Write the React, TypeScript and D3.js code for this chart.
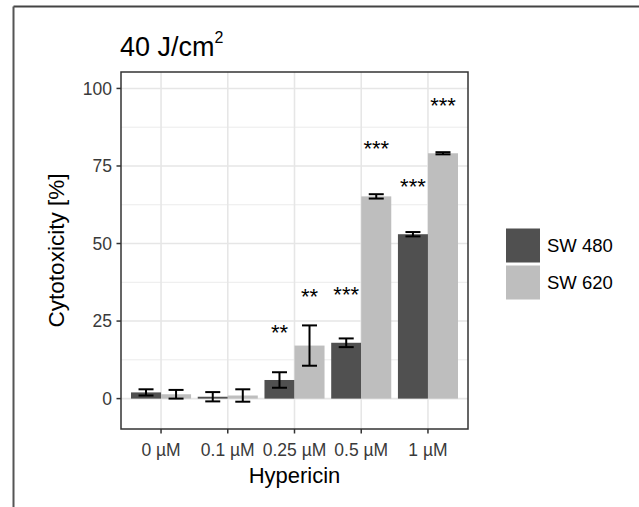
import React from "react";
import * as d3 from "d3";

const categories = ["0 µM", "0.1 µM", "0.25 µM", "0.5 µM", "1 µM"];
const seriesNames = ["SW 480", "SW 620"];
const sw480Mean = [2.0, 0.6, 6.0, 18.0, 53.0];
const sw480Sd = [1.0, 1.5, 2.5, 1.4, 0.7];
const sw620Mean = [1.4, 1.0, 17.1, 65.2, 79.1];
const sw620Sd = [1.4, 2.0, 6.5, 0.7, 0.35];
const sw480Sig = ["", "", "**", "***", "***"];
const sw620Sig = ["", "", "**", "***", "***"];
const sw480SigY = [0, 0, 18.9, 31.1, 66.0];
const sw620SigY = [0, 0, 30.4, 78.3, 92.2];
const yTicks = [0, 25, 50, 75, 100];
const yMinorTicks = [12.5, 37.5, 62.5, 87.5];
const colors = ["#505050", "#bebebe"];

const W = 639;
const H = 507;
const FONT = "'Liberation Sans', Arial, Helvetica, sans-serif";

export default function App() {
  const left = 121, right = 468, top = 72, bottom = 429;
  const y = d3.scaleLinear().domain([-9.8, 105.3]).range([bottom, top]);
  const x = d3
    .scaleBand<string>()
    .domain(categories)
    .range([left, right])
    .paddingInner(0)
    .paddingOuter(0.1);
  const step = x.bandwidth();
  const inner = d3
    .scaleBand<string>()
    .domain(seriesNames)
    .range([-0.45 * step, 0.45 * step])
    .padding(0);
  const bw = inner.bandwidth();
  const capW = 15;

  const series = [
    { name: seriesNames[0], mean: sw480Mean, sd: sw480Sd, sig: sw480Sig, sigY: sw480SigY, color: colors[0] },
    { name: seriesNames[1], mean: sw620Mean, sd: sw620Sd, sig: sw620Sig, sigY: sw620SigY, color: colors[1] },
  ];

  const cx = (c: string) => (x(c) as number) + step / 2;

  return (
    <svg
      width={W}
      height={H}
      style={{ position: "absolute", left: 0, top: 0, background: "#fff" }}
      fontFamily={FONT}
    >
      <rect x={0} y={0} width={W} height={H} fill="#fff" />
      {/* outer frame */}
      <line x1={13.5} y1={6.5} x2={W} y2={6.5} stroke="#444" strokeWidth={2} />
      <line x1={13.5} y1={6.5} x2={13.5} y2={H} stroke="#555" strokeWidth={2} />

      {/* title */}
      <text x={120} y={56} fontSize={27} fill="#000">
        40 J/cm
        <tspan fontSize={16} dy={-13}>2</tspan>
      </text>

      {/* grid */}
      <g clipPath="url(#panelClip)">
        {yMinorTicks.map((t) => (
          <line key={"mi" + t} x1={left} x2={right} y1={y(t)} y2={y(t)} stroke="#ebebeb" strokeWidth={1} />
        ))}
        {yTicks.map((t) => (
          <line key={"ma" + t} x1={left} x2={right} y1={y(t)} y2={y(t)} stroke="#e6e6e6" strokeWidth={1.6} />
        ))}
        {categories.map((c) => (
          <line key={"v" + c} x1={cx(c)} x2={cx(c)} y1={top} y2={bottom} stroke="#e6e6e6" strokeWidth={1.6} />
        ))}
      </g>

      {/* bars */}
      {series.map((s) =>
        categories.map((c, i) => {
          const x0 = cx(c) + (inner(s.name) as number);
          const y0 = y(Math.max(0, s.mean[i]));
          const y1 = y(Math.min(0, s.mean[i]));
          return <rect key={s.name + c} x={x0} y={y0} width={bw} height={y1 - y0} fill={s.color} />;
        })
      )}

      {/* error bars */}
      {series.map((s) =>
        categories.map((c, i) => {
          const xc = cx(c) + (inner(s.name) as number) + bw / 2;
          const hi = y(s.mean[i] + s.sd[i]);
          const lo = y(s.mean[i] - s.sd[i]);
          return (
            <g key={"e" + s.name + c} stroke="#000" strokeWidth={2}>
              <line x1={xc} x2={xc} y1={hi} y2={lo} />
              <line x1={xc - capW / 2} x2={xc + capW / 2} y1={hi} y2={hi} />
              <line x1={xc - capW / 2} x2={xc + capW / 2} y1={lo} y2={lo} />
            </g>
          );
        })
      )}

      {/* significance */}
      {series.map((s) =>
        categories.map((c, i) =>
          s.sig[i] ? (
            <text
              key={"s" + s.name + c}
              x={cx(c) + (inner(s.name) as number) + bw / 2}
              y={y(s.sigY[i])}
              textAnchor="middle"
              fontSize={22}
              fill="#000"
            >
              {s.sig[i]}
            </text>
          ) : null
        )
      )}

      {/* panel border */}
      <rect x={left} y={top} width={right - left} height={bottom - top} fill="none" stroke="#333" strokeWidth={1.5} />

      {/* y axis */}
      {yTicks.map((t) => (
        <g key={"yt" + t}>
          <line x1={left - 4.5} x2={left} y1={y(t)} y2={y(t)} stroke="#333" strokeWidth={1.5} />
          <text x={left - 9} y={y(t)} dy="0.36em" textAnchor="end" fontSize={17.5} fill="#3a3a3a">
            {t}
          </text>
        </g>
      ))}
      {/* x axis */}
      {categories.map((c) => (
        <g key={"xt" + c}>
          <line x1={cx(c)} x2={cx(c)} y1={bottom} y2={bottom + 4.5} stroke="#333" strokeWidth={1.5} />
          <text x={cx(c)} y={456} textAnchor="middle" fontSize={17.5} fill="#3a3a3a">
            {c}
          </text>
        </g>
      ))}

      {/* axis titles */}
      <text x={(left + right) / 2} y={483} textAnchor="middle" fontSize={22} fill="#000">
        Hypericin
      </text>
      <text
        transform={`translate(64, ${(top + bottom) / 2}) rotate(-90)`}
        textAnchor="middle"
        fontSize={22.5}
        fill="#000"
      >
        Cytotoxicity [%]
      </text>

      {/* legend */}
      {series.map((s, i) => (
        <g key={"lg" + s.name} transform={`translate(506, ${228.5 + i * 37})`}>
          <rect x={0} y={0} width={34} height={34} fill={s.color} />
          <text x={41} y={17} dy="0.36em" fontSize={18.5} fill="#000">
            {s.name}
          </text>
        </g>
      ))}

      <defs>
        <clipPath id="panelClip">
          <rect x={left} y={top} width={right - left} height={bottom - top} />
        </clipPath>
      </defs>
    </svg>
  );
}
